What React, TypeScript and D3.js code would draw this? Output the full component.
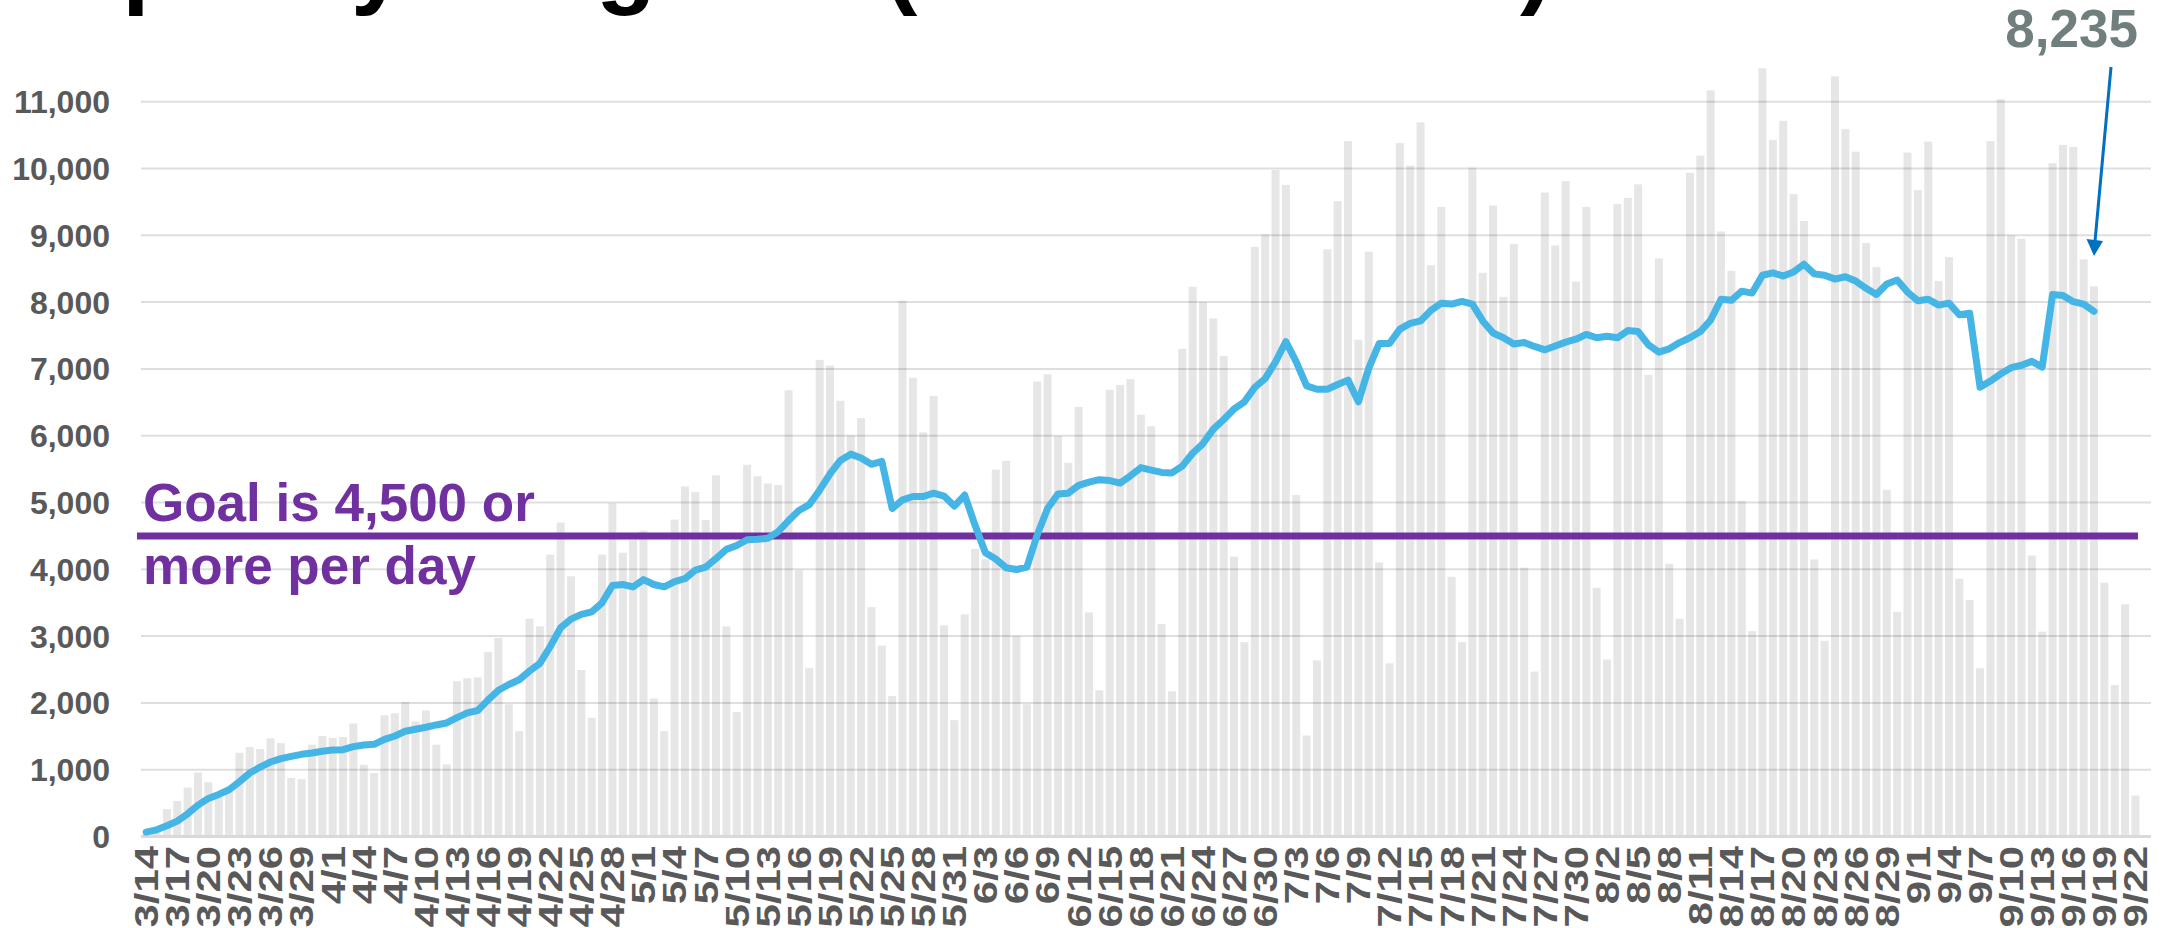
import React from "react";
import * as d3 from "d3";

// ---------- DATA ----------
const startDate = new Date(2020, 2, 14);
const endDateExclusive = new Date(2020, 8, 24); // 3/14 .. 9/23 (last slot empty)
const fmt = d3.timeFormat("%-m/%-d");
const categories: string[] = d3.timeDay.range(startDate, endDateExclusive).map((d) => fmt(d));

const dailyTests: number[] = [
  40, 110, 410, 533, 734, 958, 813, 620, 700, 1253,
  1339, 1310, 1469, 1397, 878, 857, 1375, 1505, 1476, 1490,
  1692, 1073, 950, 1814, 1843, 2016, 1721, 1886, 1375, 1080,
  2325, 2369, 2383, 2765, 2973, 1980, 1577, 3261, 3146, 4219,
  4701, 3895, 2491, 1778, 4219, 4989, 4248, 4442, 4579, 2066,
  1577, 4744, 5241, 5155, 4737, 5407, 3146, 1865, 5565, 5392,
  5284, 5263, 6681, 3985, 2520, 7135, 7048, 6523, 6004, 6263,
  3434, 2858, 2102, 8020, 6868, 6048, 6595, 3161, 1742, 3326,
  4305, 4150, 5493, 5623, 3002, 1980, 6811, 6919, 5997, 5594,
  6429, 3355, 2189, 6688, 6760, 6847, 6314, 6141, 3182, 2174,
  7300, 8229, 7998, 7754, 7192, 4190, 2909, 8827, 9014, 9978,
  9755, 5112, 1512, 2635, 8791, 9510, 10410, 7437, 8754, 4104,
  2592, 10381, 10043, 10691, 8553, 9424, 3888, 2909, 10014, 8438,
  9446, 8078, 8870, 4024, 2469, 9640, 8848, 9813, 8308, 9424,
  3722, 2649, 9467, 9561, 9762, 6911, 8654, 4082, 3261, 9935,
  10194, 11170, 9057, 8467, 5025, 3074, 11500, 10425, 10713, 9615,
  9215, 4147, 2930, 11380, 10590, 10252, 8884, 8524, 5191, 3362,
  10238, 9676, 10403, 8315, 8675, 3859, 3542, 2520, 10410, 11037,
  9000, 8949, 4205, 3067, 10079, 10353, 10324, 8639, 8235, 3801,
  2268, 3477, 612,
];

const rollingAverage: number[] = [
  65, 100, 160, 230, 340, 470, 570, 630, 700, 820,
  950, 1040, 1115, 1165, 1200, 1230, 1250, 1275, 1295, 1300,
  1345, 1370, 1380, 1455, 1505, 1575, 1605, 1635, 1670, 1700,
  1780, 1850, 1886, 2045, 2189, 2275, 2347, 2477, 2592, 2844,
  3125, 3254, 3326, 3362, 3499, 3758, 3772, 3737, 3845, 3772,
  3737, 3816, 3859, 3988, 4032, 4161, 4298, 4356, 4442, 4449,
  4464, 4564, 4730, 4880, 4968, 5184, 5428, 5630, 5724, 5666,
  5572, 5616, 4910, 5040, 5090, 5090, 5140, 5097, 4946, 5112,
  4658, 4248, 4154, 4024, 3996, 4032, 4514, 4910, 5126, 5140,
  5256, 5306, 5342, 5328, 5290, 5400, 5522, 5486, 5450, 5443,
  5544, 5738, 5882, 6098, 6242, 6400, 6508, 6724, 6854, 7106,
  7408, 7106, 6746, 6695, 6695, 6767, 6832, 6508, 7012, 7379,
  7379, 7595, 7682, 7718, 7876, 7984, 7970, 8010, 7970, 7718,
  7538, 7466, 7372, 7394, 7336, 7286, 7343, 7401, 7444, 7516,
  7466, 7488, 7466, 7574, 7559, 7358, 7250, 7300, 7394, 7466,
  7559, 7732, 8042, 8027, 8164, 8135, 8402, 8438, 8390, 8452,
  8567, 8423, 8402, 8344, 8380, 8315, 8207, 8114, 8272, 8330,
  8150, 8020, 8042, 7955, 7984, 7811, 7833, 6724, 6818, 6926,
  7019, 7055, 7113, 7027, 8114, 8099, 8006, 7970, 7862,
];

const xTickLabels: string[] = [
  "3/14", "3/17", "3/20", "3/23", "3/26", "3/29",
  "4/1", "4/4", "4/7", "4/10", "4/13", "4/16", "4/19", "4/22", "4/25", "4/28",
  "5/1", "5/4", "5/7", "5/10", "5/13", "5/16", "5/19", "5/22", "5/25", "5/28", "5/31",
  "6/3", "6/6", "6/9", "6/12", "6/15", "6/18", "6/21", "6/24", "6/27", "6/30",
  "7/3", "7/6", "7/9", "7/12", "7/15", "7/18", "7/21", "7/24", "7/27", "7/30",
  "8/2", "8/5", "8/8", "8/11", "8/14", "8/17", "8/20", "8/23", "8/26", "8/29",
  "9/1", "9/4", "9/7", "9/10", "9/13", "9/16", "9/19", "9/22",
];

const yTickValues: number[] = [0, 1000, 2000, 3000, 4000, 5000, 6000, 7000, 8000, 9000, 10000, 11000];
const goalValue = 4500;
const goalTextLines: string[] = ["Goal is 4,500 or", "more per day"];
const annotationValue = 8235;
const annotatedDate = "9/18";
const titleText = "Capacity Progress (All Lab Tests)";

// ---------- LAYOUT ----------
const W = 2166;
const H = 928;
const FONT = "'Liberation Sans', Arial, Helvetica, sans-serif";

export default function App() {
  const x = d3
    .scaleBand<string>()
    .domain(categories)
    .range([141, 2151])
    .paddingInner(0.23)
    .paddingOuter(0.115);
  const y = d3.scaleLinear().domain([0, 11000]).range([836.5, 101.7]);
  const bw = x.bandwidth();
  const cx = (c: string) => (x(c) as number) + bw / 2;

  const linePath = d3
    .line<number>()
    .x((_, i) => cx(categories[i]))
    .y((d) => y(d))(rollingAverage) as string;

  const fmtNum = d3.format(",");
  const annX = cx(annotatedDate);

  return (
    <svg
      width={W}
      height={H}
      viewBox={`0 0 ${W} ${H}`}
      style={{ position: "absolute", left: 0, top: 0, background: "#fff" }}
      fontFamily={FONT}
    >
      <rect x={0} y={0} width={W} height={H} fill="#fff" />
      {/* title (cut off at top, as in the source slide) */}
      <text x={-3} y={-4} fontSize={98} fontWeight="bold" fill="#000">
        {titleText}
      </text>

      {/* bars */}
      {dailyTests.map((v, i) => (
        <rect
          key={i}
          x={x(categories[i]) as number}
          y={y(v)}
          width={bw}
          height={y(0) - y(v)}
          fill="#E6E6E6"
        />
      ))}

      {/* gridlines */}
      {yTickValues.map((v) =>
        v === 0 ? (
          <line key={v} x1={141} x2={2151} y1={y(v)} y2={y(v)} stroke="#D9D9D9" strokeWidth={3} />
        ) : (
          <line
            key={v}
            x1={141}
            x2={2151}
            y1={y(v)}
            y2={y(v)}
            stroke="#000"
            strokeOpacity={0.13}
            strokeWidth={2}
          />
        )
      )}

      {/* y tick labels */}
      {yTickValues.map((v) => (
        <text
          key={v}
          x={110}
          y={y(v)}
          dy="0.36em"
          textAnchor="end"
          fontSize={32}
          fontWeight="bold"
          fill="#595959"
        >
          {fmtNum(v)}
        </text>
      ))}

      {/* x tick labels */}
      {xTickLabels.map((t) => (
        <text
          key={t}
          transform={`translate(${cx(t)},846) rotate(-90) scale(1.27,1)`}
          dy="0.36em"
          textAnchor="end"
          fontSize={33}
          fontWeight="bold"
          fill="#595959"
        >
          {t}
        </text>
      ))}

      {/* goal line */}
      <line x1={137} x2={2138} y1={y(goalValue)} y2={y(goalValue)} stroke="#7030A0" strokeWidth={7} />

      {/* rolling average line */}
      <path
        d={linePath}
        fill="none"
        stroke="#45B5E6"
        strokeWidth={7}
        strokeLinejoin="round"
        strokeLinecap="round"
      />

      {/* goal text */}
      <text fontSize={53} fontWeight="bold" fill="#7030A0">
        <tspan x={143} y={521}>
          {goalTextLines[0]}
        </tspan>
        <tspan x={143} y={584}>
          {goalTextLines[1]}
        </tspan>
      </text>

      {/* annotation */}
      <text x={2138} y={47} textAnchor="end" fontSize={53} fontWeight="bold" fill="#707E7E">
        {fmtNum(annotationValue)}
      </text>
      <line x1={annX + 17} y1={67} x2={annX + 1} y2={241} stroke="#0070C0" strokeWidth={3} />
      <polygon points={`${annX - 7.5},239 ${annX + 9},241 ${annX},256`} fill="#0070C0" />
    </svg>
  );
}
